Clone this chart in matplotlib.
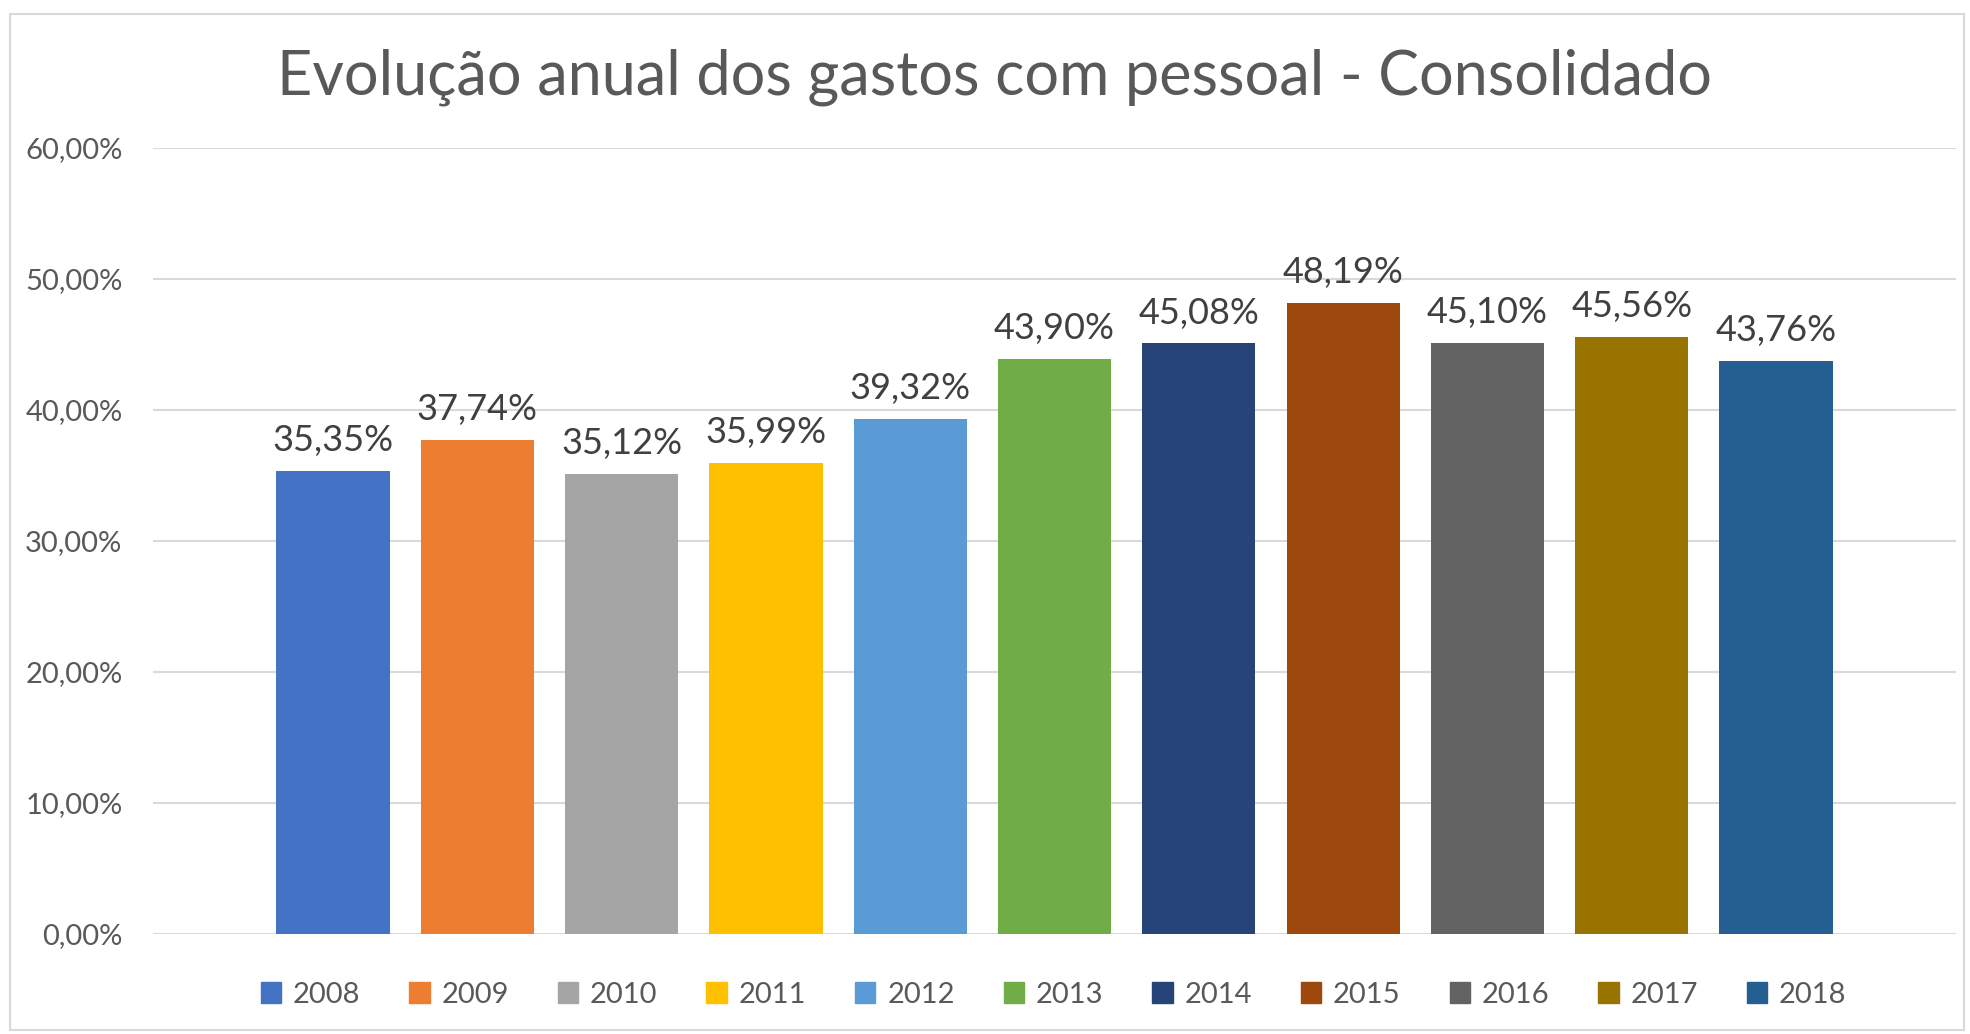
import matplotlib.pyplot as plt
from matplotlib.patches import Rectangle, Patch
from matplotlib.ticker import FuncFormatter

# dados
anos = ['2008', '2009', '2010', '2011', '2012', '2013', '2014', '2015', '2016', '2017', '2018']
gastos = [35.35, 37.74, 35.12, 35.99, 39.32, 43.90, 45.08, 48.19, 45.10, 45.56, 43.76]
cores = ['#4472C4', '#ED7D31', '#A5A5A5', '#FFC000', '#5B9BD5', '#70AD47',
         '#264478', '#9E480E', '#636363', '#997300', '#255E91']
yticks = [0, 10, 20, 30, 40, 50, 60]

plt.rcParams['font.family'] = ['Lato', 'DejaVu Sans']


def pct(v, pos=None):
    return f"{v:.2f}".replace('.', ',') + '%'


fig = plt.figure(figsize=(19.7, 10.34), dpi=100)
ax = fig.add_axes([0.0777, 0.0967, 0.9152, 0.7602])

x = list(range(len(anos)))
bars = ax.bar(x, gastos, width=0.785, color=cores, zorder=3)

for xi, v in zip(x, gastos):
    ax.annotate(pct(v), (xi, v), xytext=(0, 10), textcoords='offset points',
                ha='center', va='bottom', fontsize=26, color='#404040')

ax.set_ylim(0, 60)
ax.set_xlim(-1.247, len(anos) - 1 + 1.247)
ax.set_yticks(yticks)
ax.yaxis.set_major_formatter(FuncFormatter(pct))
ax.set_xticks([])
ax.tick_params(axis='y', length=0, pad=22, labelsize=21, labelcolor='#595959')
ax.grid(axis='y', color='#D9D9D9', linewidth=1.5, zorder=0)
for s in ax.spines.values():
    s.set_visible(False)

fig.suptitle('Evolução anual dos gastos com pessoal - Consolidado',
             x=0.5048, y=0.925, va='center', fontsize=44, color='#595959')

handles = [Patch(color=c, label=a) for c, a in zip(cores, anos)]
fig.legend(handles=handles, loc='center', bbox_to_anchor=(0.5348, 0.038), ncol=len(anos),
           frameon=False, fontsize=21, labelcolor='#595959', handlelength=0.7,
           handleheight=0.7, handletextpad=0.4, columnspacing=1.68)

fig.patches.append(Rectangle((10 / 1970, 4 / 1034), 1954 / 1970, 1016 / 1034,
                             transform=fig.transFigure, fill=False,
                             edgecolor='#D9D9D9', linewidth=1.5))

fig.savefig('out.png', dpi=100)
